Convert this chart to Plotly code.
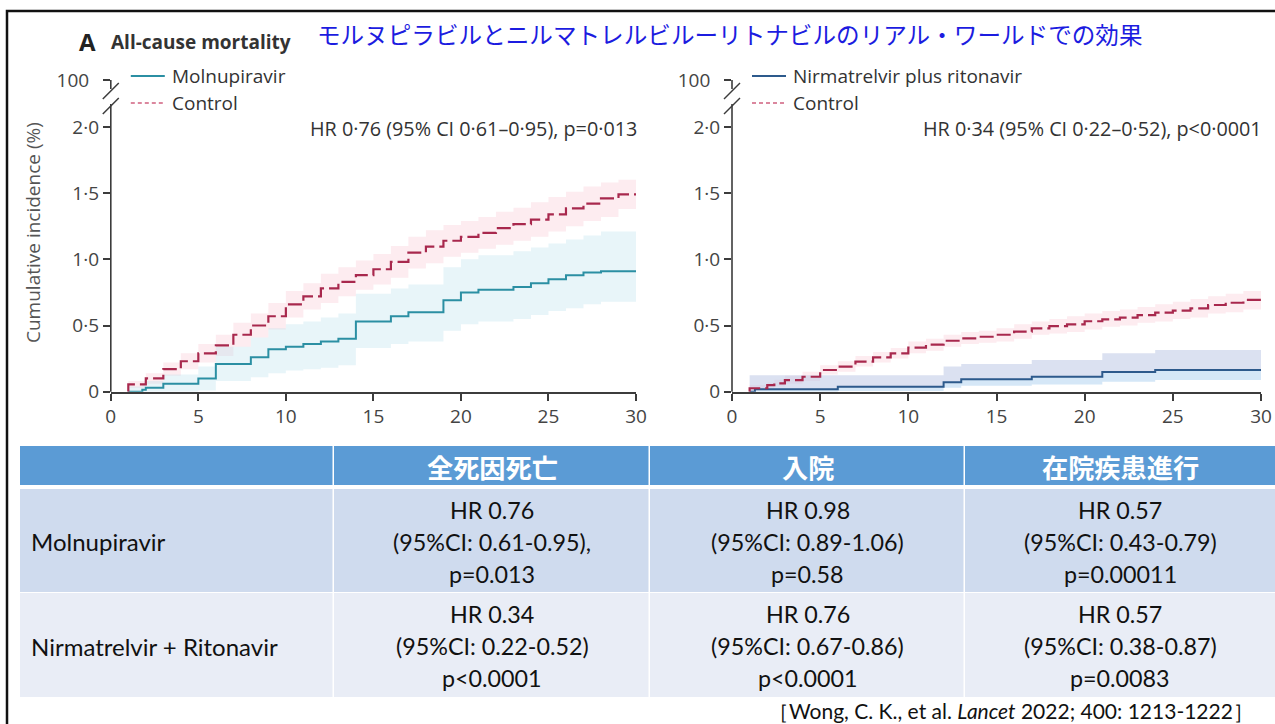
import plotly.graph_objects as go

W, H = 1275, 724

# ---- Kaplan-Meier style cumulative incidence (%) by day ----
# Panel 1: molnupiravir vs control
mol_day = [1, 1.8, 2, 3, 5, 6, 8, 9, 10, 11, 12, 13, 14, 16, 17, 19, 20, 21, 23, 24, 25, 26, 27, 28, 30]
mol_inc = [0, 0.015, 0.03, 0.06, 0.10, 0.21, 0.26, 0.32, 0.34, 0.36, 0.38, 0.40, 0.53, 0.57, 0.60, 0.69,
           0.75, 0.77, 0.79, 0.82, 0.85, 0.88, 0.90, 0.91, 0.91]
mol_lo = [0, 0, 0, 0, 0.01, 0.08, 0.11, 0.14, 0.16, 0.17, 0.18, 0.20, 0.33, 0.36, 0.38, 0.46,
          0.51, 0.53, 0.55, 0.58, 0.61, 0.63, 0.66, 0.68, 0.69]
mol_hi = [0.04, 0.06, 0.08, 0.13, 0.19, 0.34, 0.41, 0.48, 0.51, 0.53, 0.56, 0.59, 0.74, 0.78, 0.81, 0.94,
          1.00, 1.03, 1.06, 1.09, 1.12, 1.15, 1.18, 1.21, 1.22]

ctl1_day = [1, 1, 2, 3, 4, 5, 6, 7, 8, 9, 10, 11, 12, 13, 14, 15, 16, 17, 18, 19, 20, 21, 22, 23, 24,
            25, 26, 27, 28, 29, 30]
ctl1_inc = [0, 0.056, 0.10, 0.17, 0.23, 0.29, 0.35, 0.43, 0.50, 0.57, 0.66, 0.72, 0.78, 0.83, 0.88,
            0.925, 0.98, 1.05, 1.095, 1.14, 1.17, 1.20, 1.235, 1.265, 1.30, 1.34, 1.385, 1.42, 1.46, 1.49, 1.49]
ctl1_lo = [0, 0.03, 0.06, 0.12, 0.17, 0.22, 0.27, 0.34, 0.41, 0.47, 0.56, 0.62, 0.67, 0.72, 0.77,
           0.81, 0.86, 0.93, 0.97, 1.02, 1.05, 1.08, 1.11, 1.14, 1.17, 1.21, 1.25, 1.29, 1.32, 1.38, 1.38]
ctl1_hi = [0, 0.08, 0.14, 0.22, 0.29, 0.36, 0.43, 0.52, 0.59, 0.67, 0.76, 0.82, 0.89, 0.94, 0.99,
           1.04, 1.10, 1.17, 1.22, 1.26, 1.29, 1.32, 1.36, 1.39, 1.43, 1.47, 1.51, 1.55, 1.58, 1.60, 1.60]

# Panel 2: nirmatrelvir plus ritonavir vs control
nir_day = [1, 1.3, 6, 12, 13, 17, 21, 24, 30]
nir_inc = [0, 0.018, 0.038, 0.071, 0.094, 0.113, 0.149, 0.164, 0.164]
nir_lo = [0, 0, 0.005, 0.03, 0.045, 0.055, 0.075, 0.088, 0.088]
nir_hi = [0.125, 0.125, 0.125, 0.19, 0.21, 0.24, 0.29, 0.315, 0.315]

ctl2_day = [1, 1, 2, 2.4, 3, 4, 5, 6, 7, 8, 9, 10, 11, 12, 13, 14, 15, 16, 17, 18, 19, 20, 21, 22,
            23, 24, 25, 26, 27, 28, 29, 30]
ctl2_inc = [0, 0.026, 0.05, 0.063, 0.088, 0.113, 0.164, 0.189, 0.227, 0.26, 0.29, 0.333, 0.355, 0.385,
            0.403, 0.415, 0.43, 0.453, 0.478, 0.496, 0.509, 0.532, 0.547, 0.559, 0.579, 0.597, 0.612,
            0.63, 0.655, 0.672, 0.693, 0.693]
ctl2_lo = [0, 0.01, 0.03, 0.04, 0.06, 0.08, 0.13, 0.15, 0.19, 0.22, 0.25, 0.29, 0.31, 0.34, 0.36, 0.37,
           0.38, 0.40, 0.43, 0.44, 0.45, 0.47, 0.49, 0.50, 0.52, 0.53, 0.55, 0.56, 0.59, 0.60, 0.62, 0.62]
ctl2_hi = [0, 0.05, 0.07, 0.09, 0.12, 0.15, 0.20, 0.23, 0.27, 0.30, 0.33, 0.38, 0.40, 0.43, 0.45, 0.46,
           0.48, 0.51, 0.53, 0.55, 0.57, 0.59, 0.61, 0.62, 0.64, 0.66, 0.68, 0.70, 0.72, 0.74, 0.76, 0.76]

# axis ticks
x_ticks = [0, 5, 10, 15, 20, 25, 30]
y_ticks = [0, 0.5, 1.0, 1.5, 2.0, 2.354]
y_tick_text = ["0", "0·5", "1·0", "1·5", "2·0", "100\u00a0\u00a0"]

hr_text = ["HR 0·76 (95% CI 0·61–0·95), p=0·013", "HR 0·34 (95% CI 0·22–0·52), p<0·0001"]
arm_names = ["Molnupiravir", "Nirmatrelvir plus ritonavir"]

# ---- summary table ----
tbl_header = ["全死因死亡", "入院", "在院疾患進行"]
tbl_rows = ["Molnupiravir", "Nirmatrelvir + Ritonavir"]
tbl_mol = [["HR 0.76", "(95%CI: 0.61-0.95),", "p=0.013"],
           ["HR 0.98", "(95%CI: 0.89-1.06)", "p=0.58"],
           ["HR 0.57", "(95%CI: 0.43-0.79)", "p=0.00011"]]
tbl_nir = [["HR 0.34", "(95%CI: 0.22-0.52)", "p<0.0001"],
           ["HR 0.76", "(95%CI: 0.67-0.86)", "p<0.0001"],
           ["HR 0.57", "(95%CI: 0.38-0.87)", "p=0.0083"]]

TEAL = "#2b8fa3"
CRIMSON = "#a8284d"
NAVY = "#2d5a8c"
FONT = "Open Sans"
AX = "#3c3c3c"


def px(x):
    return x / W


def py(y):
    return 1 - y / H


Y0_PX, Y_TOP_PX = 391.7, 70
Y_MAX = (Y0_PX - Y_TOP_PX) / 132.4
panels = [(110.8, 636.0), (732.0, 1261.0)]

fig = go.Figure()


def band(day, lo, hi, color, xa, ya):
    fig.add_trace(go.Scatter(x=day, y=lo, mode="lines", line=dict(width=0, shape="hv"),
                             xaxis=xa, yaxis=ya, showlegend=False, hoverinfo="skip"))
    fig.add_trace(go.Scatter(x=day, y=hi, mode="lines", line=dict(width=0, shape="hv"),
                             fill="tonexty", fillcolor=color, xaxis=xa, yaxis=ya,
                             showlegend=False, hoverinfo="skip"))


PINK_BAND = "rgba(245,170,188,0.22)"
# panel 1
band(ctl1_day, ctl1_lo, ctl1_hi, PINK_BAND, "x", "y")
band(mol_day, mol_lo, mol_hi, "rgba(185,225,238,0.33)", "x", "y")
fig.add_trace(go.Scatter(x=mol_day, y=mol_inc, mode="lines", line=dict(color=TEAL, width=2, shape="hv"),
                         xaxis="x", yaxis="y", showlegend=False))
fig.add_trace(go.Scatter(x=ctl1_day, y=ctl1_inc, mode="lines",
                         line=dict(color=CRIMSON, width=2.2, shape="hv", dash="14px,5px"),
                         xaxis="x", yaxis="y", showlegend=False))

# panel 2
band(ctl2_day, ctl2_lo, ctl2_hi, PINK_BAND, "x2", "y2")
band(nir_day, nir_inc, nir_hi, "rgba(190,200,230,0.55)", "x2", "y2")
band(nir_day, nir_lo, nir_inc, "rgba(185,215,242,0.6)", "x2", "y2")
fig.add_trace(go.Scatter(x=nir_day, y=nir_inc, mode="lines", line=dict(color=NAVY, width=2, shape="hv"),
                         xaxis="x2", yaxis="y2", showlegend=False))
fig.add_trace(go.Scatter(x=ctl2_day, y=ctl2_inc, mode="lines",
                         line=dict(color=CRIMSON, width=2.2, shape="hv", dash="14px,5px"),
                         xaxis="x2", yaxis="y2", showlegend=False))

xa_common = dict(range=[0, 30], tickvals=x_ticks, showline=True, linecolor=AX, linewidth=1.6,
                 ticks="outside", ticklen=7, tickwidth=1.5, tickcolor=AX, showgrid=False, zeroline=False,
                 tickfont=dict(family=FONT, size=19, color="#444"), fixedrange=True, automargin=False)
ya_common = dict(range=[0, Y_MAX], tickvals=y_ticks, ticktext=y_tick_text, showline=False,
                 ticks="outside", ticklen=7, tickwidth=1.5, tickcolor=AX, showgrid=False, zeroline=False,
                 tickfont=dict(family=FONT, size=19, color="#444"),
                 domain=[py(Y0_PX), py(Y_TOP_PX)], fixedrange=True, automargin=False)

fig.update_layout(
    width=W, height=H, margin=dict(l=0, r=0, t=0, b=0, pad=0, autoexpand=False),
    paper_bgcolor="white", plot_bgcolor="rgba(0,0,0,0)",
    xaxis=dict(domain=[px(panels[0][0]), px(panels[0][1])], anchor="y", **xa_common),
    yaxis=dict(anchor="x", **ya_common),
    xaxis2=dict(domain=[px(panels[1][0]), px(panels[1][1])], anchor="y2", **xa_common),
    yaxis2=dict(anchor="x2", **ya_common),
    showlegend=False,
)

shapes = []
annos = []


def line(x0, y0, x1, y1, color=AX, width=1.6, dash=None):
    d = dict(type="line", xref="paper", yref="paper", x0=px(x0), y0=py(y0), x1=px(x1), y1=py(y1),
             line=dict(color=color, width=width))
    if dash:
        d["line"]["dash"] = dash
    shapes.append(d)


def text(x, y, s, size=18, color="#333", anchor="left", family=FONT, **kw):
    annos.append(dict(xref="paper", yref="paper", x=px(x), y=py(y), text=s, showarrow=False,
                      xanchor=anchor, yanchor="middle", font=dict(family=family, size=size, color=color), **kw))


# broken y axes with break marks
for (ax, right), name, hr, col in zip(panels, arm_names, hr_text, [TEAL, NAVY]):
    line(ax, 80, ax, 89)
    line(ax, 104, ax, Y0_PX)
    line(ax - 8, 99, ax + 8, 83, width=1.5)
    line(ax - 8, 114, ax + 8, 98, width=1.5)
    # legend
    line(ax + 20, 76, ax + 54, 76, color=col, width=2)
    line(ax + 20, 103, ax + 54, 103, color="#d0607f", width=1.5, dash="4px,3px")
    text(ax + 59, 76, name, size=19)
    text(ax + 59, 103, "Control", size=19)
    text(right + 3, 128, hr, size=19.8, anchor="right")

text(33, 233, "Cumulative incidence (%)", size=19, color="#555", anchor="center", textangle=-90)
text(77, 41, "<b>A</b>", size=24, color="#222")
text(109, 42, "<b>All-cause mortality</b>", size=19, color="#333")
text(315, 34, "モルヌピラビルとニルマトレルビルーリトナビルのリアル・ワールドでの効果", size=23.6,
     color="#1c1ce0", family="Noto Sans CJK JP")

# table
col_edges = [20, 334, 650, 965, 1285]
hdr_top, hdr_bot = 446, 485
row_bounds = [(489, 592), (593, 697)]
row_fills = ["#cfdbee", "#e9edf6"]


def rect(x0, y0, x1, y1, fill):
    shapes.append(dict(type="rect", xref="paper", yref="paper", x0=px(x0), y0=py(y1), x1=px(x1), y1=py(y0),
                       fillcolor=fill, line=dict(width=0), layer="below"))


for i in range(4):
    rect(col_edges[i], hdr_top, col_edges[i + 1] - 1.5, hdr_bot, "#5b9bd5")
    for (r0, r1), f in zip(row_bounds, row_fills):
        rect(col_edges[i], r0, col_edges[i + 1] - 1.5, r1, f)

for i, h in enumerate(tbl_header):
    cx = (col_edges[i + 1] + col_edges[i + 2]) / 2 if i < 2 else (col_edges[3] + 1275) / 2
    text(cx, (hdr_top + hdr_bot) / 2 + 1, "<b>" + h + "</b>", size=26.2, color="white", anchor="center",
         family="Noto Sans CJK JP")

TF = "Lato"
for (r0, r1), label, cells in zip(row_bounds, tbl_rows, [tbl_mol, tbl_nir]):
    cy = (r0 + r1) / 2 + 1
    text(29, cy, label, size=24, color="#111", family=TF)
    for j, lines in enumerate(cells):
        cx = (col_edges[j + 1] + col_edges[j + 2]) / 2 if j < 2 else (col_edges[3] + 1275) / 2
        for k, s in enumerate(lines):
            text(cx, cy + (k - 1) * 32, s, size=23.3, color="#111", anchor="center", family=TF)

text(766, 710, "［Wong, C. K., et al. <i>Lancet</i> 2022; 400: 1213-1222］", size=21, color="#111", family=TF)

# outer frame
shapes.append(dict(type="rect", xref="paper", yref="paper", x0=px(7), y0=py(760), x1=px(1300), y1=py(11),
                   line=dict(color="#111", width=2.5), fillcolor="rgba(0,0,0,0)"))

fig.update_layout(shapes=shapes, annotations=annos)
fig.write_html("out.html")
